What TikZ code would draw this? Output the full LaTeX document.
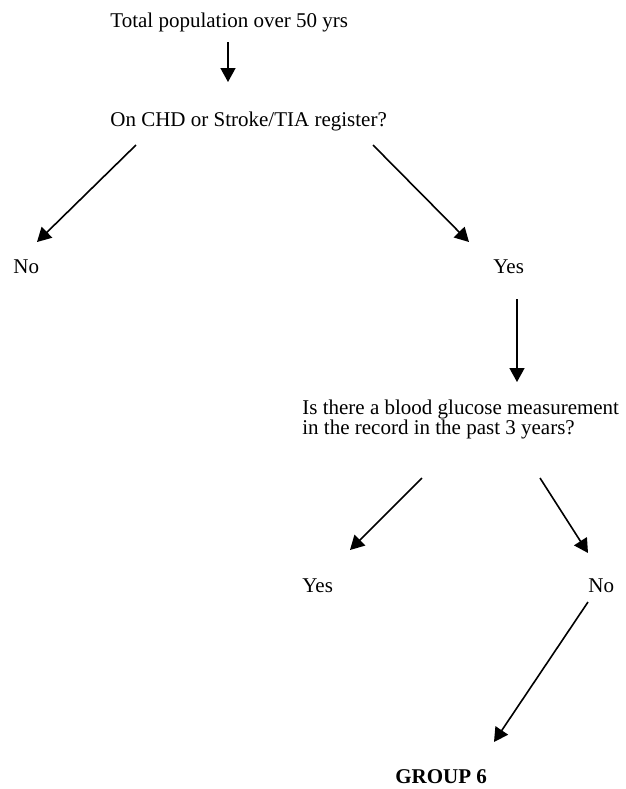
\documentclass[tikz,border=0pt]{standalone}
\usepackage{fontspec}
\setmainfont{Liberation Serif}
\usetikzlibrary{arrows.meta}

\begin{document}
\begin{tikzpicture}[x=0.5pt, y=-0.5pt, font=\fontsize{10.5}{10}\selectfont, txt/.style = {anchor=base west, inner sep=0pt}, flow/.style = {-{Triangle[length=7pt, width=7.5pt]}, line width=0.8pt}]

      \useasboundingbox (0,0) rectangle (626,789);

      \node[txt] (TOT) at (110,27) {Total population over 50 yrs};
      \node[txt] (CHD) at (110,126) {On CHD or Stroke/TIA register?};

      \node[txt] (NO_0) at (13,273) {No};
      \node[txt] (YES_0) at (493,273) {Yes};

      \node[txt, anchor=north west, align=left] (GLU) at (302,400) {Is there a blood glucose measurement\\in the record in the past 3 years?};

      \node[txt] (YES_1) at (302,592) {Yes};
      \node[txt] (NO_1) at (588,592) {No};

      \node[txt] (GRP) at (395,783) {\bfseries GROUP 6};

      \foreach \n/\x/\y in {TOT_out/228/42, CHD_in/228/82, CHD_out_0/136/145, NO_0_in/37/242, CHD_out_1/373/145, YES_0_in/469/242, YES_0_out/517/299, GLU_in/517/382, GLU_out_0/422/478, YES_1_in/350/550, GLU_out_1/540/478, NO_1_in/588/553, NO_1_out/588/602, GRP_in/494/742}
        \coordinate (\n) at (\x,\y);

      \foreach \a/\b in {TOT_out/CHD_in, CHD_out_0/NO_0_in, CHD_out_1/YES_0_in, YES_0_out/GLU_in, GLU_out_0/YES_1_in, GLU_out_1/NO_1_in, NO_1_out/GRP_in}
        \draw[flow] (\a) -- (\b);

      \end{tikzpicture}
\end{document}
